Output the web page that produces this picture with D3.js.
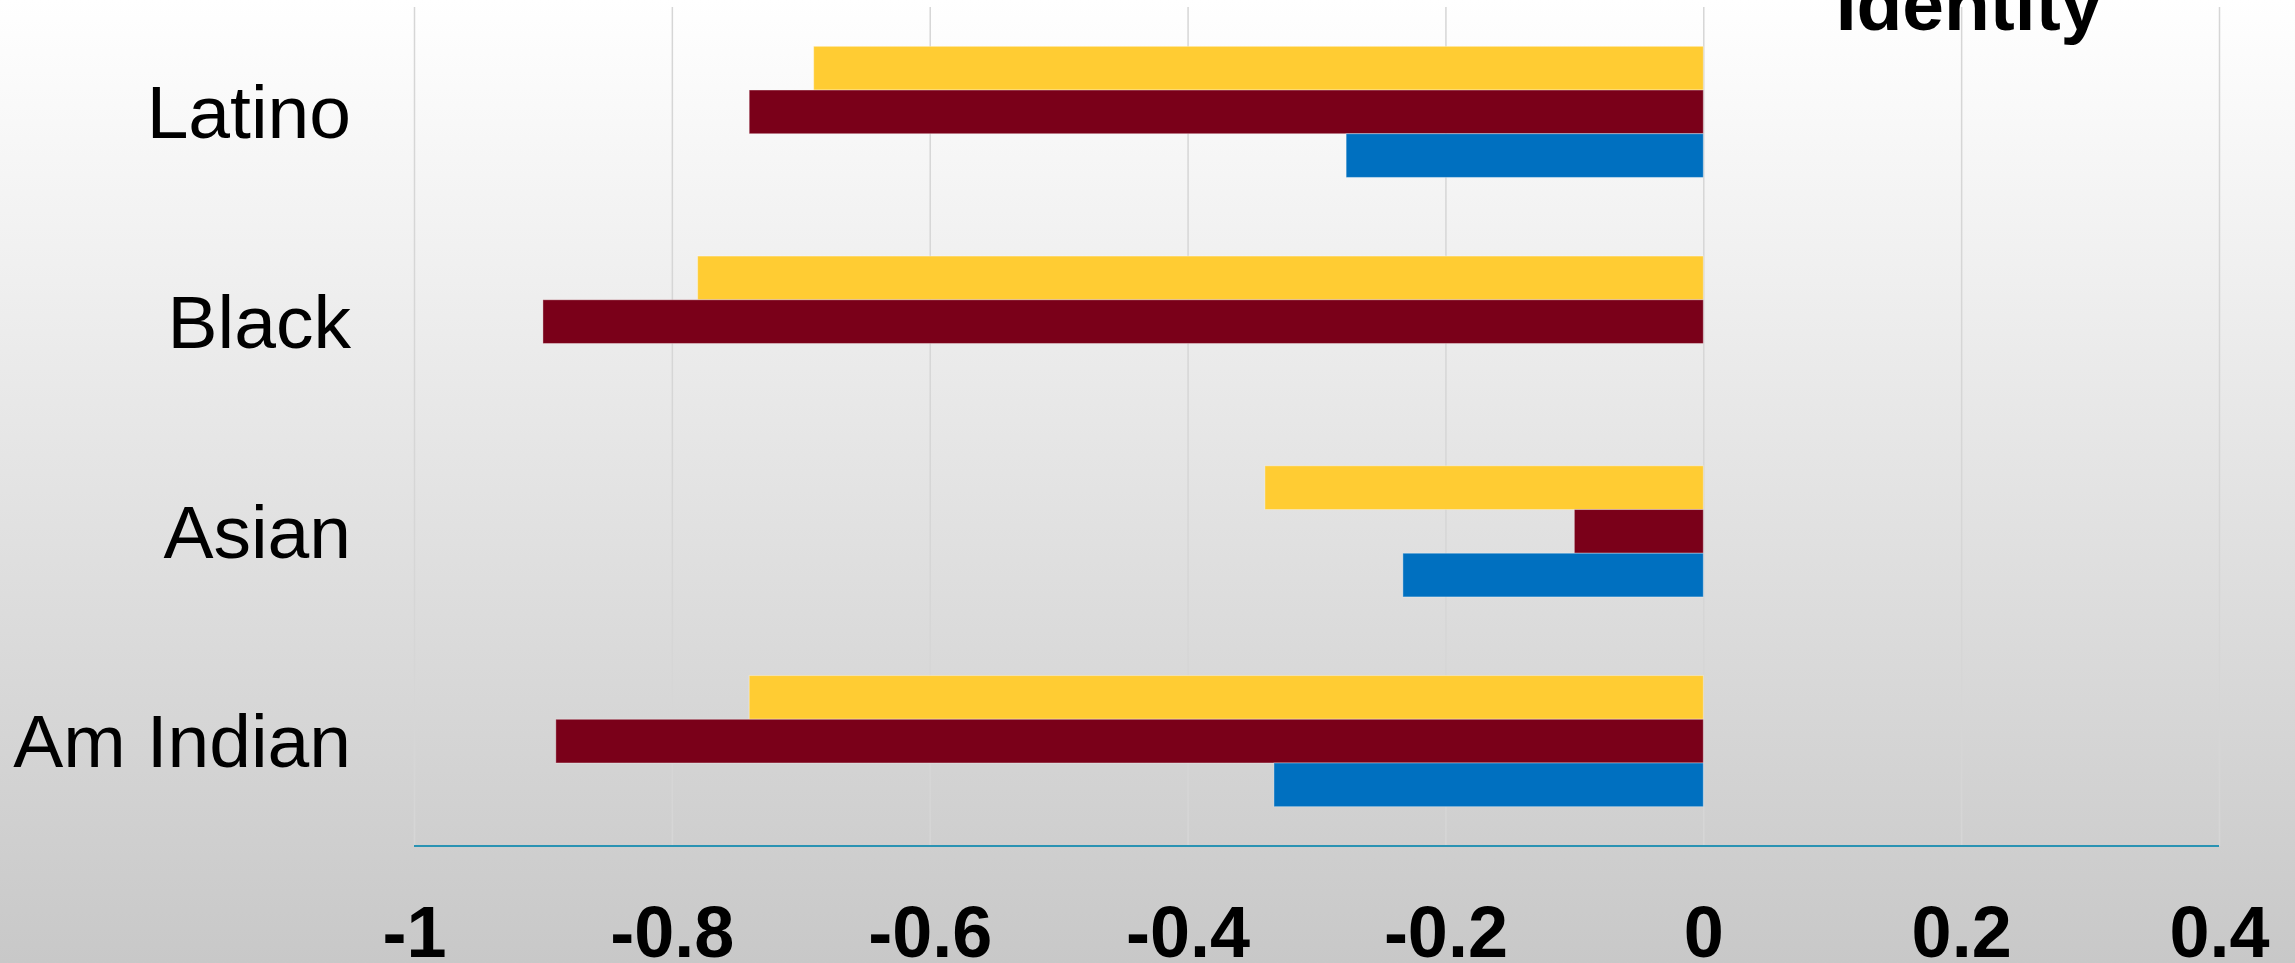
<!DOCTYPE html>
<html>
<head>
<meta charset="utf-8">
<script src="https://cdn.jsdelivr.net/npm/d3@7"></script>
<style>
  html, body { margin: 0; padding: 0; background: #ffffff; }
  svg { display: block; font-family: "Liberation Sans", Arial, sans-serif; }
</style>
</head>
<body>
<svg id="chart" width="2295" height="963"></svg>
<script>
// Categories, top to bottom
const categories = ["Latino", "Black", "Asian", "Am Indian"];

// Series values per category (same order as categories)
const seriesNames = ["Series 3", "Series 2", "Series 1"];
const series3Values = [-0.69, -0.78, -0.34, -0.74];
const series2Values = [-0.74, -0.90, -0.10, -0.89];
const series1Values = [-0.277, 0.00, -0.233, -0.333];
const seriesColors = ["#FFCC33", "#7A0019", "#0070C0"];

// Value axis ticks
const tickValues = [-1, -0.8, -0.6, -0.4, -0.2, 0, 0.2, 0.4];
const tickLabels = ["-1", "-0.8", "-0.6", "-0.4", "-0.2", "0", "0.2", "0.4"];

const titleText = "Identity";

const W = 2295, H = 963;
const plot = { left: 414, right: 2219, top: 7, bottom: 846 };

const svg = d3.select("#chart");

// Soft vertical background gradient
const defs = svg.append("defs");
const grad = defs.append("linearGradient")
  .attr("id", "bg").attr("x1", 0).attr("y1", 0).attr("x2", 0).attr("y2", 1);
grad.append("stop").attr("offset", "0%").attr("stop-color", "#ffffff");
grad.append("stop").attr("offset", "100%").attr("stop-color", "#c8c8c8");
svg.append("rect").attr("width", W).attr("height", H).attr("fill", "url(#bg)");

const x = d3.scaleLinear().domain([-1, 0.4]).range([plot.left, plot.right]);
const y = d3.scaleBand().domain(categories)
  .range([plot.top, plot.bottom])
  .paddingInner(0.375).paddingOuter(0.1875);
const ySub = d3.scaleBand().domain(seriesNames).range([0, y.bandwidth()]);

// Vertical gridlines
const grid = svg.append("g")
  .attr("transform", `translate(0,${plot.bottom})`)
  .call(d3.axisBottom(x).tickValues(tickValues)
    .tickSize(-(plot.bottom - plot.top)).tickFormat(""));
grid.select(".domain").remove();
grid.selectAll(".tick line").attr("stroke", "#d6d6d6").attr("stroke-width", 1.5);

// Bars
const seriesData = [series3Values, series2Values, series1Values];
const rows = [];
categories.forEach((c, i) => {
  seriesNames.forEach((s, j) => {
    rows.push({ cat: c, series: s, value: seriesData[j][i], color: seriesColors[j] });
  });
});

svg.append("g").selectAll("rect")
  .data(rows.filter(d => d.value !== 0))
  .join("rect")
  .attr("x", d => x(Math.min(0, d.value)))
  .attr("width", d => Math.abs(x(d.value) - x(0)))
  .attr("y", d => y(d.cat) + ySub(d.series))
  .attr("height", ySub.bandwidth())
  .attr("fill", d => d.color)
  .attr("stroke", "rgba(255,255,255,0.35)")
  .attr("stroke-width", 1);

// Category axis line (bottom)
svg.append("line")
  .attr("x1", plot.left).attr("x2", plot.right)
  .attr("y1", plot.bottom).attr("y2", plot.bottom)
  .attr("stroke", "#2a93b3").attr("stroke-width", 2);

// Value tick labels
const xAxis = svg.append("g")
  .attr("transform", `translate(0,${plot.bottom})`)
  .call(d3.axisBottom(x).tickValues(tickValues).tickSize(0).tickPadding(60)
    .tickFormat((d, i) => tickLabels[i]));
xAxis.select(".domain").remove();
xAxis.selectAll("text")
  .attr("fill", "#000").attr("font-size", 72).attr("font-weight", "bold")
  .attr("font-family", "'Liberation Sans', Arial, sans-serif");

// Category labels
const yAxis = svg.append("g")
  .attr("transform", `translate(${plot.left},0)`)
  .call(d3.axisLeft(y).tickSize(0).tickPadding(63));
yAxis.select(".domain").remove();
yAxis.selectAll("text")
  .attr("fill", "#000").attr("font-size", 75).attr("dy", "0.35em")
  .attr("font-family", "'Liberation Sans', Arial, sans-serif");

// Title (runs off the top edge)
svg.append("text")
  .attr("x", 1969).attr("y", 30)
  .attr("text-anchor", "middle")
  .attr("font-size", 75).attr("font-weight", "bold").attr("fill", "#000")
  .text(titleText);
</script>
</body>
</html>
